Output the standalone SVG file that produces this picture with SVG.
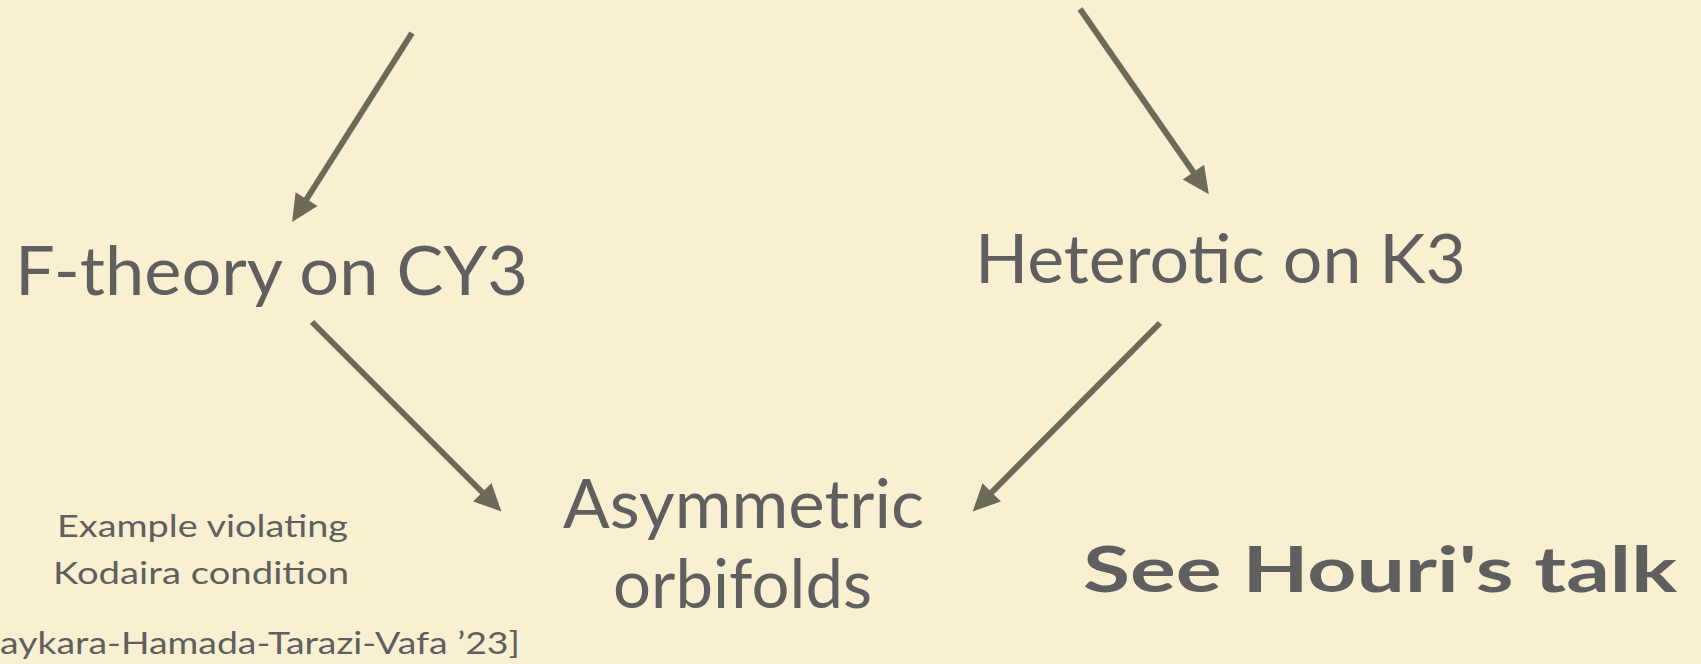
<svg xmlns="http://www.w3.org/2000/svg" width="1701" height="664" viewBox="0 0 1701 664">
<defs>
<style>
.t{font-family:Lato,"Open Sans","Liberation Sans",sans-serif;fill:#5f5f5f}
.big{font-size:68px}
.small{font-size:31px}
.bold{font-size:63px;font-weight:bold}
.arrow{stroke:#6e6a58;stroke-width:6;fill:none;marker-end:url(#head)}
</style>
<marker id="head" markerUnits="userSpaceOnUse" markerWidth="30" markerHeight="30" refX="0" refY="0" orient="auto" overflow="visible">
<path d="M-1,-13 L26,0 L-1,13 z" fill="#6e6a58"/>
</marker>
</defs>
<rect width="1701" height="664" fill="#f9f0d2"/>
<g id="connectors">
<line class="arrow" x1="412" y1="33" x2="306" y2="200"/>
<line class="arrow" x1="1080" y1="9" x2="1194" y2="173"/>
<line class="arrow" x1="312" y1="322" x2="483" y2="493"/>
<line class="arrow" x1="1160" y1="323" x2="991" y2="493"/>
</g>
<g id="ftheory"><text class="t big" x="15" y="295" textLength="513" lengthAdjust="spacingAndGlyphs">F-theory on CY3</text></g>
<g id="heterotic"><text class="t big" x="975" y="283" textLength="491" lengthAdjust="spacingAndGlyphs">Heterotic on K3</text></g>
<g id="asymmetric"><text class="t big" x="563" y="528" textLength="361" lengthAdjust="spacingAndGlyphs">Asymmetric</text><text class="t big" x="613" y="608" textLength="259" lengthAdjust="spacingAndGlyphs">orbifolds</text></g>
<g id="example"><text class="t small" x="57" y="537" textLength="291" lengthAdjust="spacingAndGlyphs">Example violating</text><text class="t small" x="53" y="584" textLength="296" lengthAdjust="spacingAndGlyphs">Kodaira condition</text><text class="t small" x="0" y="654" textLength="520" lengthAdjust="spacingAndGlyphs">aykara-Hamada-Tarazi-Vafa  ’23]</text></g>
<g id="houri"><text class="t bold" x="1083" y="592" textLength="594" lengthAdjust="spacingAndGlyphs">See Houri's talk</text></g>
</svg>
